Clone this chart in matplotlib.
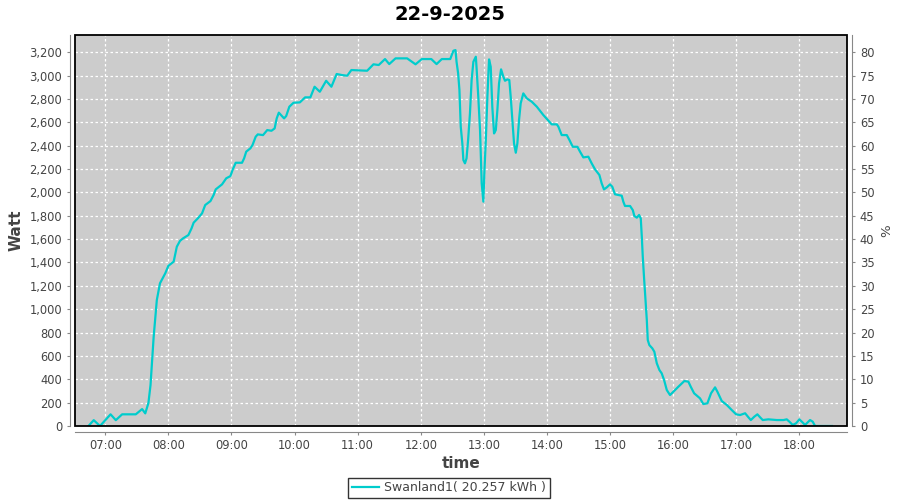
import matplotlib
matplotlib.use("Agg")
import matplotlib.pyplot as plt
from matplotlib.ticker import FixedLocator, FuncFormatter
from matplotlib.patches import Rectangle

title = "22-9-2025"
series_name = "Swanland1( 20.257 kWh )"

times = [
    "06:44:00", "06:49:00", "06:55:00", "07:05:00", "07:10:00", "07:16:00", "07:29:00", "07:35:00",
    "07:38:00", "07:41:00", "07:43:00", "07:46:00", "07:49:00", "07:52:00", "07:57:00", "08:00:00",
    "08:05:00", "08:08:00", "08:11:00", "08:14:00", "08:19:00", "08:22:00", "08:24:00", "08:28:00",
    "08:32:00", "08:35:00", "08:40:00", "08:43:00", "08:45:00", "08:51:00", "08:55:00", "08:59:00",
    "09:01:00", "09:04:00", "09:10:00", "09:12:00", "09:14:00", "09:18:00", "09:20:00", "09:23:00",
    "09:25:00", "09:30:00", "09:34:00", "09:38:00", "09:41:00", "09:43:00", "09:45:00", "09:50:00",
    "09:52:00", "09:55:00", "09:59:00", "10:05:00", "10:10:00", "10:15:00", "10:19:00", "10:24:00",
    "10:30:00", "10:35:00", "10:40:00", "10:45:00", "10:50:00", "10:54:00", "11:09:00", "11:15:00",
    "11:20:00", "11:26:00", "11:30:00", "11:36:00", "11:47:00", "11:55:00", "12:01:00", "12:10:00",
    "12:15:00", "12:20:00", "12:28:00", "12:31:00", "12:33:00", "12:34:00", "12:35:30", "12:36:45",
    "12:38:00", "12:39:30", "12:40:30", "12:42:00", "12:43:30", "12:45:00", "12:46:45", "12:48:20",
    "12:50:00", "12:52:20", "12:53:10", "12:54:40", "12:56:20", "12:57:55", "12:59:30", "13:00:25",
    "13:01:50", "13:03:20", "13:04:55", "13:06:30", "13:08:00", "13:09:40", "13:11:20", "13:12:50",
    "13:14:25", "13:16:20", "13:18:30", "13:20:05", "13:22:20", "13:24:10", "13:25:30", "13:27:05",
    "13:28:40", "13:30:20", "13:31:50", "13:33:25", "13:35:00", "13:37:30", "13:40:50", "13:45:30",
    "13:50:20", "13:56:30", "14:01:20", "14:04:30", "14:09:20", "14:10:50", "14:14:00", "14:18:50",
    "14:21:20", "14:24:30", "14:28:55", "14:31:25", "14:34:35", "14:39:20", "14:42:30", "14:45:40",
    "14:49:50", "14:52:00", "14:54:10", "14:56:50", "14:59:55", "15:02:05", "15:04:40", "15:11:05",
    "15:12:35", "15:14:10", "15:19:00", "15:21:35", "15:23:05", "15:25:25", "15:27:35", "15:29:10",
    "15:30:10", "15:31:05", "15:32:20", "15:34:55", "15:35:50", "15:37:20", "15:40:10", "15:42:05",
    "15:44:25", "15:46:55", "15:49:05", "15:51:20", "15:53:55", "15:57:00", "16:00:10", "16:05:00",
    "16:10:35", "16:14:25", "16:16:40", "16:19:55", "16:25:30", "16:28:40", "16:32:30", "16:36:00",
    "16:39:50", "16:42:00", "16:46:10", "16:51:00", "16:55:40", "16:59:50", "17:03:35", "17:08:25",
    "17:11:30", "17:13:50", "17:17:10", "17:20:05", "17:22:35", "17:25:10", "17:30:30", "17:38:30",
    "17:44:50", "17:48:00", "17:50:30", "17:53:40", "17:56:50", "18:00:00", "18:02:20", "18:05:25",
    "18:10:10", "18:12:40", "18:14:55", "18:19:00", "18:31:00",
]

watts = [
    0, 50, 0, 100, 50, 100, 100, 145,
    108, 197, 350, 765, 1079, 1222, 1307, 1372,
    1407, 1535, 1585, 1607, 1635, 1692, 1741, 1778,
    1821, 1892, 1926, 1978, 2026, 2069, 2121, 2140,
    2192, 2254, 2254, 2292, 2349, 2378, 2406, 2477,
    2497, 2491, 2534, 2528, 2548, 2634, 2683, 2634,
    2654, 2734, 2768, 2771, 2814, 2814, 2905, 2862,
    2956, 2905, 3014, 3005, 2999, 3048, 3042, 3097,
    3091, 3142, 3099, 3148, 3148, 3097, 3142, 3142,
    3099, 3142, 3142, 3213, 3219, 3119, 3020, 2877,
    2562, 2420, 2277, 2249, 2292, 2449, 2677, 2962,
    3119, 3162, 3048, 2820, 2534, 2078, 1921, 2163,
    2449, 2820, 3139, 3076, 2734, 2505, 2534, 2705,
    2934, 3054, 2991, 2956, 2968, 2962, 2820, 2620,
    2420, 2340, 2420, 2620, 2763, 2848, 2805, 2777,
    2734, 2663, 2614, 2583, 2583, 2563, 2491, 2491,
    2449, 2391, 2391, 2349, 2300, 2306, 2249, 2198,
    2149, 2078, 2026, 2043, 2069, 2049, 1984, 1972,
    1921, 1884, 1884, 1849, 1798, 1784, 1807, 1778,
    1621, 1450, 1265, 908, 736, 693, 665, 636,
    537, 479, 451, 394, 308, 265, 294, 337,
    385, 380, 337, 280, 237, 188, 194, 280,
    331, 294, 214, 180, 137, 100, 94, 109,
    75, 51, 80, 100, 75, 51, 57, 51,
    51, 57, 37, 9, 23, 57, 37, 9,
    51, 37, 0, 0, 0,
]

y_ticks = list(range(0, 3201, 200))
pct_ticks = list(range(0, 81, 5))
hour_ticks = list(range(7, 19))


def to_hours(s):
    h, m, sec = (int(p) for p in s.split(":"))
    return h + m / 60 + sec / 3600


x = [to_hours(t) for t in times]

label_color = "#444444"
fig = plt.figure(figsize=(9, 5), dpi=100)
ax = fig.add_axes([75.3 / 900, 1 - 426 / 500, (846.7 - 75.3) / 900, (426 - 35) / 500])
ax.set_facecolor("#cccccc")

ax.plot(x, watts, color="#00cccc", linewidth=1.6, label=series_name, zorder=3)

ax.set_xlim(6.5246, 18.75)
ax.set_ylim(0, 3348)

ax.xaxis.set_major_locator(FixedLocator(hour_ticks))
ax.xaxis.set_major_formatter(FuncFormatter(lambda v, p: f"{int(round(v)):02d}:00"))
ax.yaxis.set_major_locator(FixedLocator(y_ticks))
ax.yaxis.set_major_formatter(FuncFormatter(lambda v, p: f"{int(v):,}"))

ax.grid(True, color="white", linestyle=(0, (2, 2)), linewidth=0.9)
ax.set_axisbelow(True)

for side in ["left", "bottom"]:
    ax.spines[side].set_position(("outward", 4))
    ax.spines[side].set_color("#888888")
for side in ["top", "right"]:
    ax.spines[side].set_visible(False)

ax.tick_params(axis="both", direction="out", length=2.5, width=0.8, color="#888888",
               labelsize=8.3, labelcolor=label_color, pad=3)

ax.add_patch(Rectangle((0, 0), 1, 1, transform=ax.transAxes, fill=False,
                       edgecolor="black", linewidth=1.3, zorder=5, clip_on=False))

ax2 = ax.twinx()
ax2.set_ylim(0, 3348 / 40)
ax2.yaxis.set_major_locator(FixedLocator(pct_ticks))
for side in ["left", "top", "bottom"]:
    ax2.spines[side].set_visible(False)
ax2.spines["right"].set_position(("outward", 4))
ax2.spines["right"].set_color("#888888")
ax2.tick_params(axis="y", direction="out", length=2.5, width=0.8, color="#888888",
                labelsize=8.3, labelcolor=label_color, pad=3)
ax2.set_ylabel("%", fontsize=9.5, color=label_color, labelpad=4)

ax.set_xlabel("time", fontsize=11, fontweight="bold", color=label_color, labelpad=3)
ax.set_ylabel("Watt", fontsize=11, fontweight="bold", color=label_color, labelpad=4)

fig.text(0.5, 1 - 15 / 500, title, ha="center", va="center", fontsize=14, fontweight="bold")

leg = fig.legend(loc="center", bbox_to_anchor=(449 / 900, 1 - 488 / 500), frameon=True,
                 fancybox=False, edgecolor="black", fontsize=9, handlelength=2.2,
                 handletextpad=0.4, borderpad=0.3, borderaxespad=0)
leg.get_frame().set_linewidth(1.0)
for t in leg.get_texts():
    t.set_color(label_color)

fig.savefig("out.png", dpi=100)
